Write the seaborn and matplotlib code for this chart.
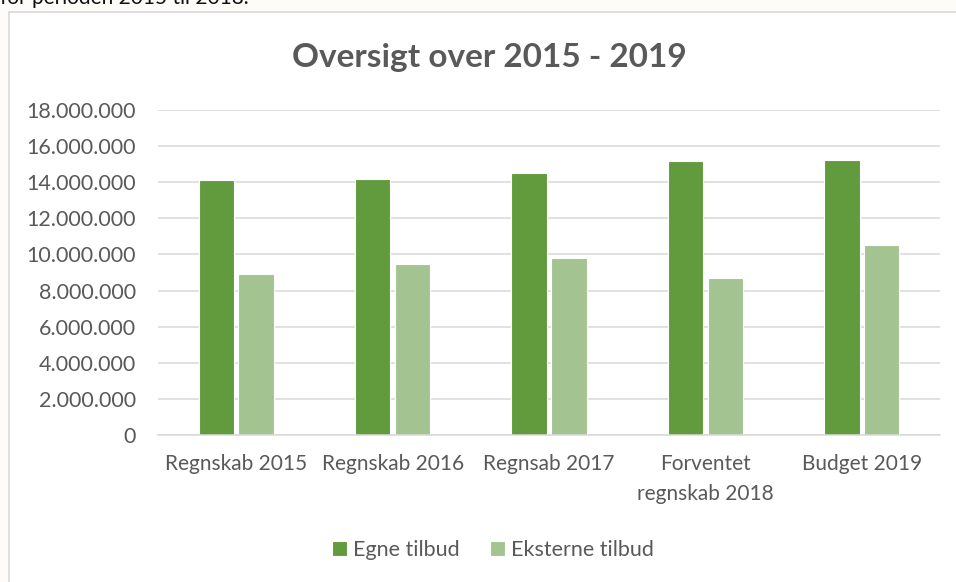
import pandas as pd
import matplotlib
matplotlib.use("Agg")
import matplotlib.pyplot as plt
import matplotlib.ticker as mticker
from matplotlib.patches import Rectangle
import seaborn as sns

categories = ["Regnskab 2015", "Regnskab 2016", "Regnsab 2017",
              "Forventet\nregnskab 2018", "Budget 2019"]
egne_tilbud = [14150000, 14170000, 14520000, 15170000, 15250000]
eksterne_tilbud = [8930000, 9450000, 9800000, 8680000, 10500000]
series_names = ["Egne tilbud", "Eksterne tilbud"]
y_ticks = list(range(0, 18000001, 2000000))

df = pd.DataFrame({
    "kategori": categories * 2,
    "serie": [series_names[0]] * len(categories) + [series_names[1]] * len(categories),
    "beloeb": egne_tilbud + eksterne_tilbud,
})

sns.set_style("white")
plt.rcParams["font.family"] = ["Lato", "DejaVu Sans"]

text_grey = "#595959"
palette = {"Egne tilbud": "#629A3E", "Eksterne tilbud": "#A3C490"}

fig = plt.figure(figsize=(9.56, 5.82), dpi=100, facecolor="#FDFCF8")

# chart area frame (white box, grey border, runs off right/bottom)
fig.patches.append(Rectangle((9 / 956, -0.05), 1.1, 0.05 + (1 - 12 / 582),
                             transform=fig.transFigure, facecolor="white",
                             edgecolor="#D9D9D9", linewidth=1.2, zorder=-5))

# cropped line of document text above the chart
fig.text(0.0, 1 - 4 / 582, "for perioden 2015 til 2018.", fontsize=15,
         color="#111111", ha="left", va="baseline")

ax = fig.add_axes([158 / 956, 1 - 435 / 582, (940 - 158) / 956, (435 - 110) / 582])
ax.set_facecolor("none")
ax.set_zorder(2)

sns.barplot(data=df, x="kategori", y="beloeb", hue="serie", palette=palette,
            width=0.51, gap=0.11, saturation=1, edgecolor="white", linewidth=0.8,
            ax=ax, legend=True)

ax.set_ylim(0, 18000000)
ax.set_yticks(y_ticks)
ax.yaxis.set_major_formatter(mticker.FuncFormatter(
    lambda v, p: f"{int(v):,}".replace(",", ".")))
ax.grid(axis="y", color="#D9D9D9", linewidth=1.1)
ax.set_axisbelow(True)
for s in ["top", "right", "left"]:
    ax.spines[s].set_visible(False)
ax.spines["bottom"].set_color("#D9D9D9")
ax.spines["bottom"].set_linewidth(1.1)
ax.tick_params(axis="y", length=0, pad=16, labelsize=15.5, labelcolor=text_grey)
ax.tick_params(axis="x", length=0, pad=14, labelsize=15, labelcolor=text_grey)
for lab in ax.get_xticklabels():
    lab.set_linespacing(1.6)
    lab.set_verticalalignment("top")
ax.set_xlabel("")
ax.set_ylabel("")

handles, labels = ax.get_legend_handles_labels()
ax.get_legend().remove()
fig.legend(handles, labels, loc="center", bbox_to_anchor=(493 / 956, 1 - 550 / 582),
           ncol=2, frameon=False, fontsize=15.5, labelcolor=text_grey,
           handlelength=0.7, handleheight=0.7, handletextpad=0.3,
           columnspacing=1.4)

fig.text(489 / 956, 1 - 57 / 582, "Oversigt over 2015 - 2019", fontsize=24,
         fontweight="bold", color=text_grey, ha="center", va="center")

fig.savefig("out.png", dpi=100, facecolor=fig.get_facecolor())
